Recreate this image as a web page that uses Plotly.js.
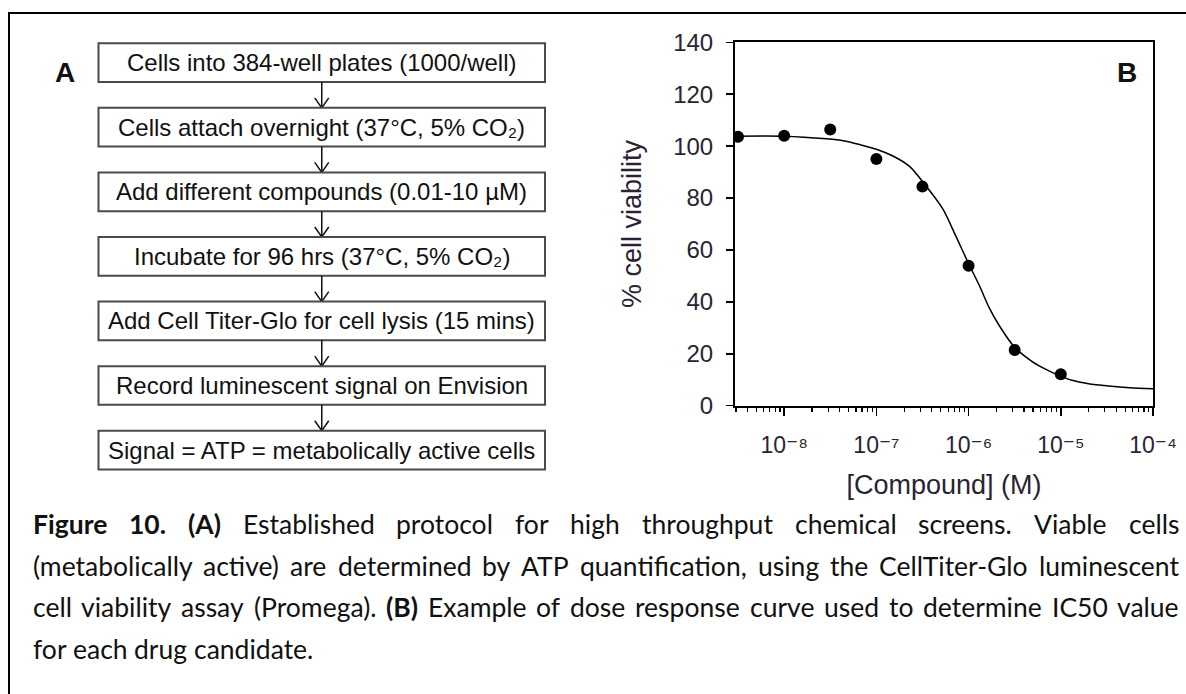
<!DOCTYPE html>
<html>
<head>
<meta charset="utf-8">
<script src="https://cdn.plot.ly/plotly-3.0.1.min.js"></script>
<style>html,body{margin:0;padding:0;background:#fff;}#chart{width:1186px;height:694px;}</style>
</head>
<body>
<div id="chart"></div>
<script>
// ---- Data (panel B) ----
const concentration = [3.16e-9, 1e-8, 3.16e-8, 1e-7, 3.16e-7, 1e-6, 3.16e-6, 1e-5];
const viability = [103.6, 104.0, 106.4, 95.0, 84.4, 53.9, 21.5, 12.1];
const fitConcentration = [2.93e-9, 1e-8, 2.88e-8, 4.37e-8, 6.6e-8, 1e-7, 1.51e-7, 2.29e-7, 3.31e-7, 5.25e-7, 7.24e-7, 9.77e-7, 1.32e-6, 1.66e-6, 2.14e-6, 3.16e-6, 4.9e-6, 6.9e-6, 9.8e-6, 1.32e-5, 2.0e-5, 3.3e-5, 5.6e-5, 1e-4];
const fitViability = [103.8, 103.8, 102.8, 102.1, 100.6, 98.8, 96.2, 92.2, 85.5, 75.8, 65.5, 55.5, 46.0, 38.0, 31.0, 22.5, 17.0, 14.0, 11.5, 9.8, 8.5, 7.6, 6.9, 6.5];
const xTickVals = [1e-8, 1e-7, 1e-6, 1e-5, 1e-4];
const xTickText = ['10\u207B\u2078', '10\u207B\u2077', '10\u207B\u2076', '10\u207B\u2075', '10\u207B\u2074'];
const yTickVals = [0, 20, 40, 60, 80, 100, 120, 140];

// ---- Panel A protocol steps ----
const protocolSteps = [
  'Cells into 384-well plates (1000/well)',
  'Cells attach overnight (37°C, 5% CO\u2082)',
  'Add different compounds (0.01-10 µM)',
  'Incubate for 96 hrs (37°C, 5% CO\u2082)',
  'Add Cell Titer-Glo for cell lysis (15 mins)',
  'Record luminescent signal on Envision',
  'Signal = ATP = metabolically active cells'
];

// ---- Caption ----
const captionLines = [
  '<b>Figure</b> <b>10.</b> <b>(A)</b> Established protocol for high throughput chemical screens. Viable cells',
  '(metabolically active) are determined by ATP quantification, using the CellTiter-Glo luminescent',
  'cell viability assay (Promega). <b>(B)</b> Example of dose response curve used to determine IC50 value',
  'for each drug candidate.'
];

// ---- layout helpers (pixel -> paper) ----
const W = 1186, H = 694;
const px = x => x / W;
const py = y => 1 - y / H;

const AX = {left: 735, right: 1153, top: 42.3, bottom: 405.7};
const axisTextColor = '#2a2334';
const chartFont = 'Liberation Sans, Arial, DejaVu Sans, sans-serif';

const shapes = [];
const annotations = [];

// outer frame
shapes.push({type: 'rect', xref: 'paper', yref: 'paper', x0: px(9), x1: 1.05, y0: -0.05, y1: py(13),
  line: {color: '#000', width: 2}, fillcolor: 'rgba(0,0,0,0)'});

// flowchart
const boxL = 98.5, boxR = 545, boxTop0 = 43.3, boxPitch = 64.57, boxH = 38.7;
const boxCx = (boxL + boxR) / 2;
protocolSteps.forEach((txt, i) => {
  const top = boxTop0 + i * boxPitch;
  shapes.push({type: 'rect', xref: 'paper', yref: 'paper', x0: px(boxL), x1: px(boxR), y0: py(top + boxH), y1: py(top),
    line: {color: '#4a4a4a', width: 2}, fillcolor: '#fff'});
  annotations.push({xref: 'paper', yref: 'paper', x: px(boxCx), y: py(top + boxH / 2), xanchor: 'center', yanchor: 'middle',
    text: txt, showarrow: false, font: {family: chartFont, size: 24, color: '#111'}});
  if (i < protocolSteps.length - 1) {
    const y0 = top + boxH, y1 = boxTop0 + (i + 1) * boxPitch;
    shapes.push({type: 'line', xref: 'paper', yref: 'paper', x0: px(boxCx), x1: px(boxCx), y0: py(y0), y1: py(y1),
      line: {color: '#111', width: 1.5}});
    shapes.push({type: 'path', xref: 'paper', yref: 'paper',
      path: 'M ' + px(boxCx - 7) + ' ' + py(y1 - 10) + ' L ' + px(boxCx) + ' ' + py(y1) + ' L ' + px(boxCx + 7) + ' ' + py(y1 - 10),
      line: {color: '#111', width: 1.5}});
  }
});
annotations.push({xref: 'paper', yref: 'paper', x: px(65), y: py(72.5), xanchor: 'center', yanchor: 'middle',
  text: '<b>A</b>', showarrow: false, font: {family: chartFont, size: 28, color: '#111'}});
annotations.push({xref: 'paper', yref: 'paper', x: px(1127), y: py(72.5), xanchor: 'center', yanchor: 'middle',
  text: '<b>B</b>', showarrow: false, font: {family: chartFont, size: 28, color: '#111'}});

// caption, justified
const capFont = 'Lato';
const capSize = 26.5;
const capLeft = 31.5, capRight = 1178;
const capBaselines = [533, 574.5, 616, 657.5];
const cv = document.createElement('canvas').getContext('2d');
function measure(word, bold) {
  cv.font = (bold ? 'bold ' : '') + capSize + 'px ' + capFont;
  return cv.measureText(word).width;
}
const spaceW = measure(' ', false);
captionLines.forEach((line, li) => {
  const words = line.split(' ').map(w => {
    const bold = w.startsWith('<b>');
    const plain = w.replace(/<\/?b>/g, '');
    return {text: w, bold: bold, w: measure(plain, bold)};
  });
  const total = words.reduce((s, w) => s + w.w, 0);
  const justify = li < captionLines.length - 1;
  const gap = justify ? Math.max(spaceW * 0.8, (capRight - capLeft - total) / (words.length - 1)) : spaceW;
  let x = capLeft;
  words.forEach(w => {
    annotations.push({xref: 'paper', yref: 'paper', x: px(x), y: py(capBaselines[li] - capSize * 0.33),
      xanchor: 'left', yanchor: 'middle', text: w.text, showarrow: false, borderpad: 0,
      font: {family: capFont, size: capSize, color: '#111'}});
    x += w.w + gap;
  });
});

// minor log ticks
const minorTicks = [];
[-9, -8, -7, -6, -5].forEach(e => { for (let m = 2; m <= 9; m++) minorTicks.push(m * Math.pow(10, e)); });

const traces = [
  {x: fitConcentration, y: fitViability, type: 'scatter', mode: 'lines',
   line: {color: '#000', width: 1.5, shape: 'spline', smoothing: 0.8}, hoverinfo: 'skip'},
  {x: concentration, y: viability, type: 'scatter', mode: 'markers',
   marker: {color: '#000', size: 12, symbol: 'circle'}}
];

const layout = {
  width: W, height: H,
  margin: {l: 0, r: 0, t: 0, b: 0},
  paper_bgcolor: '#fff', plot_bgcolor: '#fff',
  showlegend: false,
  font: {family: chartFont, color: axisTextColor},
  xaxis: {
    type: 'log', domain: [px(AX.left), px(AX.right)],
    range: [Math.log10(2.93e-9), -4],
    tickmode: 'array', tickvals: xTickVals, ticktext: xTickText,
    ticks: 'outside', ticklen: 8, tickwidth: 1.5, tickcolor: '#000',
    minor: {tickmode: 'array', tickvals: minorTicks, ticks: 'outside', ticklen: 4, tickwidth: 1.2, tickcolor: '#000', showgrid: false},
    showline: true, linecolor: '#000', linewidth: 2, mirror: true,
    showgrid: false, zeroline: false,
    tickfont: {size: 23, color: axisTextColor},
    ticklabelstandoff: 10,
    title: {text: '[Compound] (M)', font: {size: 27, color: axisTextColor}, standoff: 18},
    automargin: false
  },
  yaxis: {
    domain: [py(AX.bottom), py(AX.top)],
    range: [0, 140],
    tickmode: 'array', tickvals: yTickVals,
    ticks: 'outside', ticklen: 7, tickwidth: 1.5, tickcolor: '#000',
    showline: true, linecolor: '#000', linewidth: 2, mirror: true,
    showgrid: false, zeroline: false,
    tickfont: {size: 24, color: axisTextColor},
    ticklabelstandoff: 8,
    title: {text: '% cell viability', font: {size: 27, color: axisTextColor}, standoff: 24},
    automargin: false
  },
  shapes: shapes,
  annotations: annotations
};

Plotly.newPlot('chart', traces, layout, {displayModeBar: false, staticPlot: true});
</script>
</body>
</html>
